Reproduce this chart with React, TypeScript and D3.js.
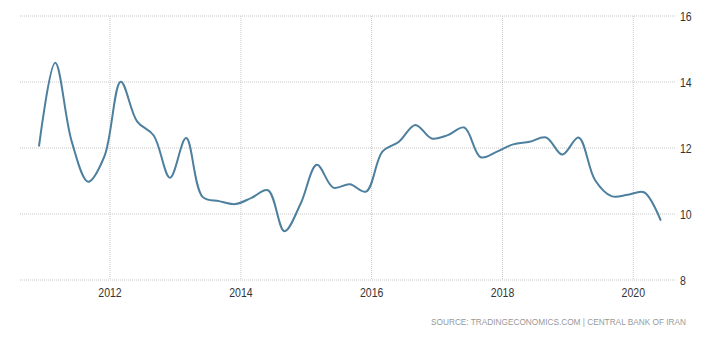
import React from "react";
import * as d3 from "d3";

const dates = [
  "2010-12", "2011-03", "2011-06", "2011-09", "2011-12",
  "2012-03", "2012-06", "2012-09", "2012-12",
  "2013-03", "2013-06", "2013-09", "2013-12",
  "2014-03", "2014-06", "2014-09", "2014-12",
  "2015-03", "2015-06", "2015-09", "2015-12",
  "2016-03", "2016-06", "2016-09", "2016-12",
  "2017-03", "2017-06", "2017-09", "2017-12",
  "2018-03", "2018-06", "2018-09", "2018-12",
  "2019-03", "2019-06", "2019-09", "2019-12",
  "2020-03", "2020-06",
];
const values = [
  12.07, 14.58, 12.2, 10.98, 11.75,
  14.01, 12.8, 12.38, 11.1,
  12.3, 10.52, 10.39, 10.3,
  10.49, 10.72, 9.48, 10.32,
  11.49, 10.8, 10.9, 10.68,
  11.89, 12.19, 12.7, 12.29,
  12.39, 12.62, 11.72, 11.89,
  12.11, 12.19, 12.32, 11.8,
  12.32, 11.03, 10.54, 10.58,
  10.66, 9.82,
];
const yTicks = [8, 10, 12, 14, 16];
const xTickYears = [2012, 2014, 2016, 2018, 2020];
const sourceText = "SOURCE: TRADINGECONOMICS.COM | CENTRAL BANK OF IRAN";

const W = 725;
const H = 337;
const gridLeft = 20;
const gridRight = 675;
const font = "'Liberation Sans', Arial, sans-serif";
const digitW = 5.85;

export default function App() {
  const parse = d3.timeParse("%Y-%m");
  const pts = dates.map((d, i) => ({ t: parse(d) as Date, v: values[i] }));
  const x = d3
    .scaleTime()
    .domain([new Date(2012, 0, 1), new Date(2020, 0, 1)])
    .range([110, 633.3]);
  const y = d3.scaleLinear().domain([8, 16]).range([280, 16]);
  const line = d3
    .line<{ t: Date; v: number }>()
    .x((d) => x(d.t))
    .y((d) => y(d.v))
    .curve(d3.curveCatmullRom.alpha(0.5));

  return (
    <svg
      width={W}
      height={H}
      style={{ position: "absolute", left: 0, top: 0, background: "#fff" }}
    >
      {yTicks.map((t) => (
        <g key={"y" + t}>
          <line
            x1={gridLeft}
            x2={gridRight}
            y1={y(t)}
            y2={y(t)}
            stroke="#c8c8c8"
            strokeWidth={1}
            strokeDasharray="1,1"
          />
          <text
            x={680}
            y={y(t) + 4.5}
            fontFamily={font}
            fontSize={12.5}
            textLength={String(t).length * digitW}
            lengthAdjust="spacingAndGlyphs"
            fill="#333"
          >
            {t}
          </text>
        </g>
      ))}
      {xTickYears.map((yr) => {
        const xp = x(new Date(yr, 0, 1));
        return (
          <g key={"x" + yr}>
            <line
              x1={xp}
              x2={xp}
              y1={y(16)}
              y2={y(8)}
              stroke="#c8c8c8"
              strokeWidth={1}
              strokeDasharray="1,1"
            />
            <text
              x={xp - 2 * digitW}
              y={297.3}
              fontFamily={font}
              fontSize={12.5}
              textLength={4 * digitW}
              lengthAdjust="spacingAndGlyphs"
              fill="#333"
            >
              {yr}
            </text>
          </g>
        );
      })}
      <path
        d={line(pts) || ""}
        fill="none"
        stroke="#4d7f9e"
        strokeWidth={2}
        strokeLinejoin="round"
        strokeLinecap="round"
      />
      <text
        x={431}
        y={324.5}
        fontFamily={font}
        fontSize={8.3}
        textLength={255}
        lengthAdjust="spacing"
        fill="#999"
      >
        {sourceText}
      </text>
    </svg>
  );
}
